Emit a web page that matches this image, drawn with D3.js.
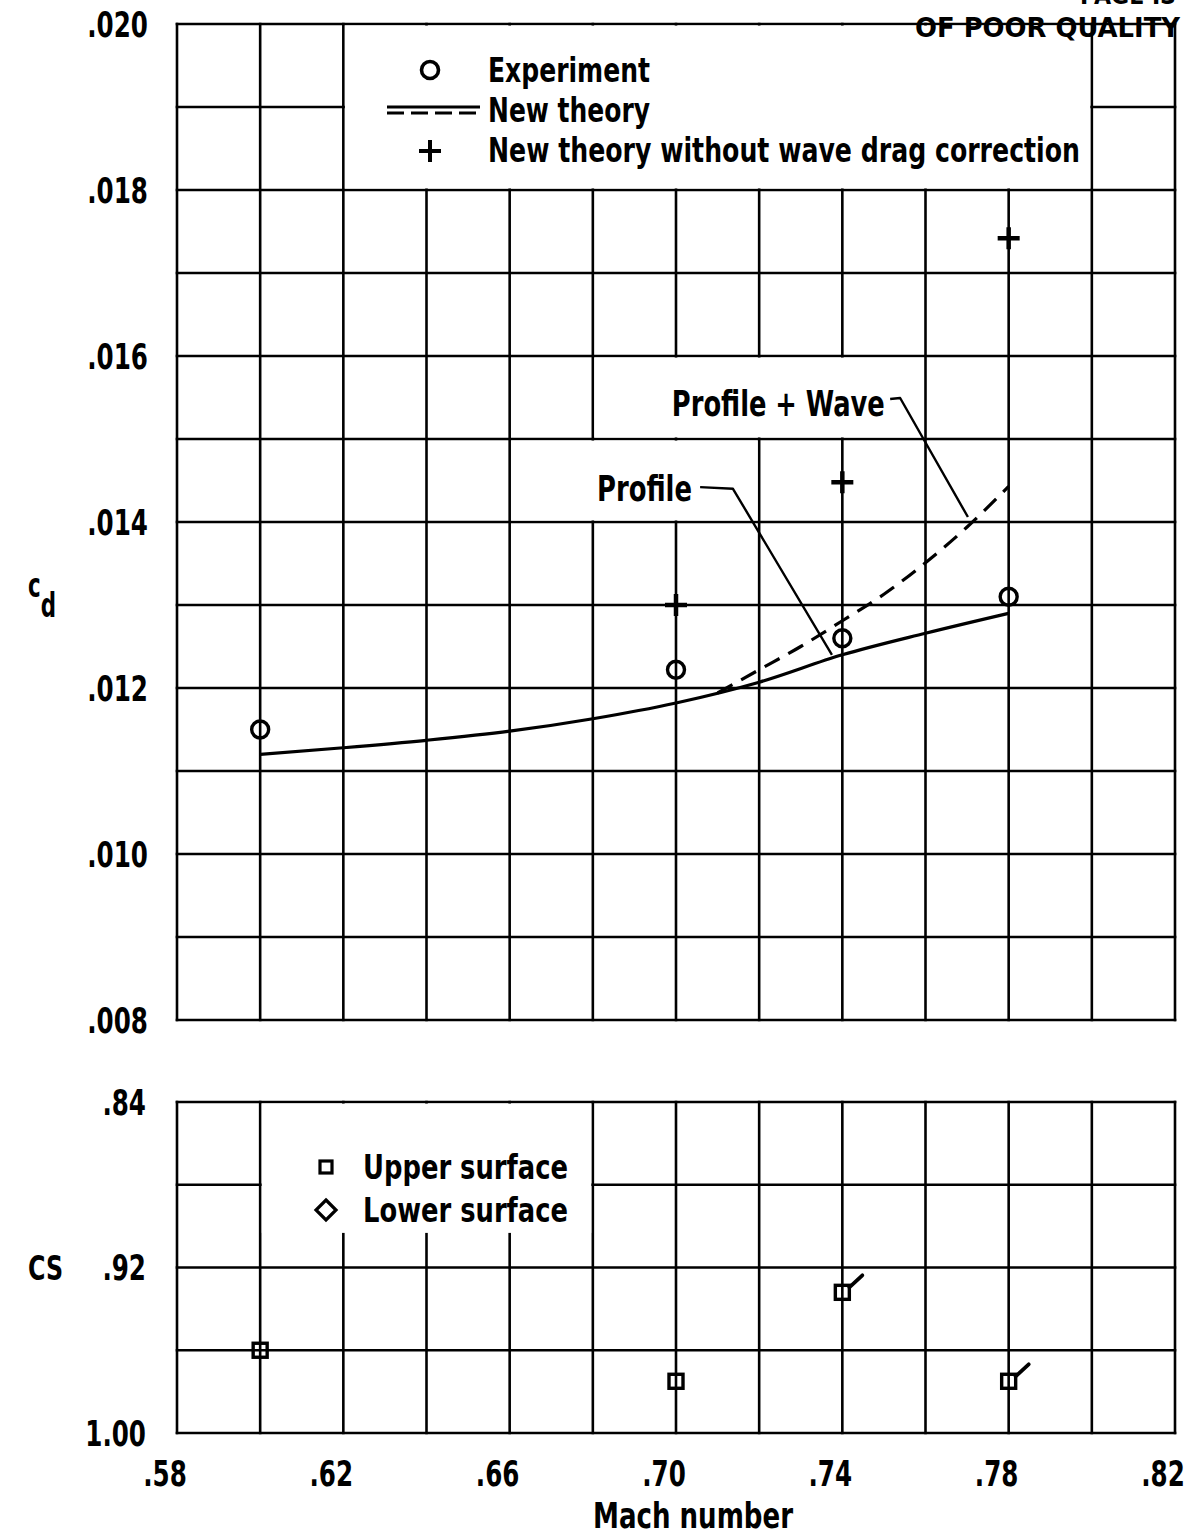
<!DOCTYPE html>
<html>
<head>
<meta charset="utf-8">
<script src="https://cdn.jsdelivr.net/npm/d3@7"></script>
<style>
  html, body { margin: 0; padding: 0; background: #fff; }
  svg { display: block; }
  .lbl { font-family: "Liberation Sans Narrow", "DejaVu Sans Condensed", "DejaVu Sans", sans-serif;
         font-weight: bold; font-stretch: condensed; fill: #000; }
</style>
</head>
<body>
<svg id="chart" width="1203" height="1539"></svg>
<script>
// ---- data ----
const machTicks = [0.58, 0.60, 0.62, 0.64, 0.66, 0.68, 0.70, 0.72, 0.74, 0.76, 0.78, 0.80, 0.82];
const machLabels = [0.58, 0.62, 0.66, 0.70, 0.74, 0.78, 0.82];
const cdGrid = [0.008, 0.009, 0.010, 0.011, 0.012, 0.013, 0.014, 0.015, 0.016, 0.017, 0.018, 0.019, 0.020];
const cdLabels = [0.008, 0.010, 0.012, 0.014, 0.016, 0.018, 0.020];
const csGrid = [0.84, 0.88, 0.92, 0.96, 1.00];
const csLabels = [0.84, 0.92, 1.00];

// experiment (circles)
const expMach = [0.60, 0.70, 0.74, 0.78];
const expCd   = [0.01150, 0.01222, 0.01260, 0.01310];

// new theory without wave drag correction (plus)
const noWaveMach = [0.70, 0.74, 0.78];
const noWaveCd   = [0.01300, 0.01448, 0.01742];

// new theory, profile drag (solid)
const profileMach = [0.60, 0.62, 0.64, 0.66, 0.68, 0.70, 0.72, 0.74, 0.76, 0.78];
const profileCd   = [0.01120, 0.01128, 0.01137, 0.01148, 0.01163, 0.01182, 0.01207, 0.01240, 0.01266, 0.01290];

// new theory, profile + wave drag (dashed)
const waveMach = [0.71, 0.72, 0.73, 0.74, 0.75, 0.76, 0.77, 0.78];
const waveCd   = [0.01194, 0.01222, 0.01250, 0.01281, 0.01313, 0.01351, 0.01394, 0.01443];

// shock location, upper surface (squares); flagged points carry a tick
const upperMach = [0.60, 0.70, 0.74, 0.78];
const upperCs   = [0.960, 0.975, 0.932, 0.975];
const upperFlag = [false, false, true, true];

// annotation leaders, in data units
const profileLeader = [[0.7058, 0.01442], [0.7137, 0.01440], [0.7375, 0.01240]];
const waveLeader    = [[0.7515, 0.015482], [0.7539, 0.015494], [0.7702, 0.01406]];

// ---- layout ----
const svg = d3.select("#chart");
const plotL = 177, plotR = 1175;
const topT = 24, topB = 1020;
const botT = 1102, botB = 1433;

const x = d3.scaleLinear().domain([0.58, 0.82]).range([plotL, plotR]);
const yCd = d3.scaleLinear().domain([0.008, 0.020]).range([topB, topT]);
const yCs = d3.scaleLinear().domain([0.84, 1.00]).range([botT, botB]);

svg.append("rect").attr("width", 1203).attr("height", 1539).attr("fill", "#fff");

// lettering is narrow: squeeze text to a set width, or by a ratio
const fitTo = (sel, w) => sel.attr("textLength", w).attr("lengthAdjust", "spacingAndGlyphs");
const squeeze = (sel, k) => sel.each(function () {
  const len = this.getComputedTextLength();
  d3.select(this).attr("textLength", len * k).attr("lengthAdjust", "spacingAndGlyphs");
});

const GRID_W = 2.6;

function drawGrid(y, yVals, yDom) {
  const g = svg.append("g").attr("stroke", "#000").attr("stroke-width", GRID_W).attr("stroke-linecap", "square");
  g.selectAll("line.v").data(machTicks).join("line")
    .attr("x1", d => x(d)).attr("x2", d => x(d))
    .attr("y1", y(yDom[0])).attr("y2", y(yDom[1]));
  g.selectAll("line.h").data(yVals).join("line")
    .attr("x1", plotL).attr("x2", plotR)
    .attr("y1", d => y(d)).attr("y2", d => y(d));
  return g;
}
drawGrid(yCd, cdGrid, [0.008, 0.020]);
drawGrid(yCs, csGrid, [0.84, 1.00]);

// cleared grid areas behind the lettering
function clearCells(y, m0, m1, v0, v1) {
  const xa = x(m0), xb = x(m1), ya = y(v0), yb = y(v1);
  const pad = GRID_W / 2 + 0.3;
  svg.append("rect")
    .attr("x", Math.min(xa, xb) + pad).attr("y", Math.min(ya, yb) + pad)
    .attr("width", Math.abs(xb - xa) - 2 * pad).attr("height", Math.abs(yb - ya) - 2 * pad)
    .attr("fill", "#fff");
}
clearCells(yCd, 0.62, 0.80, 0.018, 0.020);
clearCells(yCd, 0.68, 0.76, 0.015, 0.016);
clearCells(yCd, 0.66, 0.72, 0.014, 0.015);
{
  // lower legend area: open below to mid-cell
  const xa = x(0.60) + GRID_W / 2 + 0.3, xb = x(0.68) - GRID_W / 2 - 0.3;
  svg.append("rect").attr("x", xa).attr("y", yCs(0.84) + GRID_W / 2 + 0.3)
    .attr("width", xb - xa).attr("height", yCs(0.9025) - yCs(0.84))
    .attr("fill", "#fff");
}

// ---- axis labels ----
const tickFont = 36, tickK = 0.76;
const fmt3 = d => "." + d3.format(".3f")(d).split(".")[1];
svg.append("g").selectAll("text").data(cdLabels).join("text")
  .attr("class", "lbl").attr("font-size", tickFont)
  .attr("x", 148).attr("y", d => yCd(d)).attr("dy", "0.36em")
  .attr("text-anchor", "end").text(fmt3)
  .call(squeeze, tickK);

const fmtCs = d => d >= 1 ? "1.00" : "." + d3.format(".2f")(d).split(".")[1];
svg.append("g").selectAll("text").data(csLabels).join("text")
  .attr("class", "lbl").attr("font-size", tickFont)
  .attr("x", 146).attr("y", d => yCs(d)).attr("dy", "0.36em")
  .attr("text-anchor", "end").text(fmtCs)
  .call(squeeze, tickK);

svg.append("g").selectAll("text").data(machLabels).join("text")
  .attr("class", "lbl").attr("font-size", tickFont)
  .attr("x", d => x(d) - 12).attr("y", 1486)
  .attr("text-anchor", "middle")
  .text(d => "." + d3.format(".2f")(d).split(".")[1])
  .call(squeeze, tickK);

svg.append("text").attr("class", "lbl").attr("font-size", 36)
  .attr("x", x(0.70) + 17).attr("y", 1528).attr("text-anchor", "middle").text("Mach number")
  .call(fitTo, 200);

// c_d with subscript
const cdLab = svg.append("text").attr("class", "lbl").attr("font-size", 34).attr("x", 28).attr("y", 597);
cdLab.append("tspan").text("c");
cdLab.append("tspan").attr("dy", 20).text("d");
cdLab.call(fitTo, 28);

svg.append("text").attr("class", "lbl").attr("font-size", 34)
  .attr("x", 28).attr("y", yCs(0.92)).attr("dy", "0.36em").text("CS")
  .call(fitTo, 35);

// ---- curves ----
const line = d3.line().x(d => x(d[0])).y(d => yCd(d[1])).curve(d3.curveMonotoneX);
svg.append("path").datum(d3.zip(profileMach, profileCd))
  .attr("d", line).attr("fill", "none").attr("stroke", "#000").attr("stroke-width", 3.2);
svg.append("path").datum(d3.zip(waveMach, waveCd))
  .attr("d", line).attr("fill", "none").attr("stroke", "#000").attr("stroke-width", 3.2)
  .attr("stroke-dasharray", "17,10");

// leaders
const straight = d3.line().x(d => x(d[0])).y(d => yCd(d[1]));
[profileLeader, waveLeader].forEach(pts => {
  svg.append("path").attr("d", straight(pts)).attr("fill", "none")
    .attr("stroke", "#000").attr("stroke-width", 2.4).attr("stroke-linejoin", "round");
});
svg.append("text").attr("class", "lbl").attr("font-size", 35)
  .attr("x", x(0.6810)).attr("y", yCd(0.01441)).attr("dy", "0.36em").text("Profile")
  .call(fitTo, 95);
svg.append("text").attr("class", "lbl").attr("font-size", 35)
  .attr("x", x(0.6990)).attr("y", yCd(0.015434)).attr("dy", "0.36em").text("Profile + Wave")
  .call(fitTo, 213);

// ---- markers ----
const circR = 8.5;
svg.append("g").selectAll("circle").data(d3.zip(expMach, expCd)).join("circle")
  .attr("cx", d => x(d[0])).attr("cy", d => yCd(d[1])).attr("r", circR)
  .attr("fill", "none").attr("stroke", "#000").attr("stroke-width", 3.4);

const plusPath = (cx, cy, s) => `M${cx - s},${cy}H${cx + s}M${cx},${cy - s}V${cy + s}`;
svg.append("g").selectAll("path").data(d3.zip(noWaveMach, noWaveCd)).join("path")
  .attr("d", d => plusPath(x(d[0]), yCd(d[1]), 11))
  .attr("stroke", "#000").attr("stroke-width", 4.5);

const sq = 14;
const upper = svg.append("g");
upper.selectAll("rect").data(d3.zip(upperMach, upperCs)).join("rect")
  .attr("x", d => x(d[0]) - sq / 2).attr("y", d => yCs(d[1]) - sq / 2)
  .attr("width", sq).attr("height", sq)
  .attr("fill", "none").attr("stroke", "#000").attr("stroke-width", 3.4);
upper.selectAll("path").data(d3.zip(upperMach, upperCs, upperFlag).filter(d => d[2])).join("path")
  .attr("d", d => {
    const cx = x(d[0]) + sq / 2, cy = yCs(d[1]) - sq / 2 + 2;
    return `M${cx},${cy}L${cx + 13},${cy - 12}`;
  })
  .attr("stroke", "#000").attr("stroke-width", 3.8).attr("stroke-linecap", "round");

// ---- legends ----
const legFont = 34;
const leg = svg.append("g");
leg.append("circle").attr("cx", 430).attr("cy", 70).attr("r", circR)
  .attr("fill", "none").attr("stroke", "#000").attr("stroke-width", 3.6);
leg.append("text").attr("class", "lbl").attr("font-size", legFont)
  .attr("x", 488).attr("y", 70).attr("dy", "0.36em").text("Experiment")
  .call(fitTo, 162);
leg.append("line").attr("x1", 387).attr("x2", 480).attr("y1", 107).attr("y2", 107)
  .attr("stroke", "#000").attr("stroke-width", 3);
leg.append("line").attr("x1", 387).attr("x2", 480).attr("y1", 113).attr("y2", 113)
  .attr("stroke", "#000").attr("stroke-width", 3).attr("stroke-dasharray", "17,7");
leg.append("text").attr("class", "lbl").attr("font-size", legFont)
  .attr("x", 488).attr("y", 110).attr("dy", "0.36em").text("New theory")
  .call(fitTo, 162);
leg.append("path").attr("d", plusPath(430, 151, 11)).attr("stroke", "#000").attr("stroke-width", 4);
leg.append("text").attr("class", "lbl").attr("font-size", legFont)
  .attr("x", 488).attr("y", 150).attr("dy", "0.36em").text("New theory without wave drag correction")
  .call(fitTo, 592);

const leg2 = svg.append("g");
leg2.append("rect").attr("x", 326 - 6).attr("y", 1167 - 6).attr("width", 12).attr("height", 12)
  .attr("fill", "none").attr("stroke", "#000").attr("stroke-width", 3.2);
leg2.append("text").attr("class", "lbl").attr("font-size", legFont)
  .attr("x", 363).attr("y", 1167).attr("dy", "0.36em").text("Upper surface")
  .call(fitTo, 205);
leg2.append("path").attr("d", "M326,1200L336,1210L326,1220L316,1210Z")
  .attr("fill", "none").attr("stroke", "#000").attr("stroke-width", 3.2);
leg2.append("text").attr("class", "lbl").attr("font-size", legFont)
  .attr("x", 363).attr("y", 1210).attr("dy", "0.36em").text("Lower surface")
  .call(fitTo, 205);

// page stamp, top right
svg.append("text").attr("class", "lbl").attr("font-size", 24)
  .attr("x", 1176).attr("y", 4).attr("text-anchor", "end").text("PAGE IS")
  .call(fitTo, 96);
svg.append("text").attr("class", "lbl").attr("font-size", 26)
  .attr("x", 1180).attr("y", 37).attr("text-anchor", "end").text("OF POOR QUALITY")
  .call(fitTo, 265);
</script>
</body>
</html>
